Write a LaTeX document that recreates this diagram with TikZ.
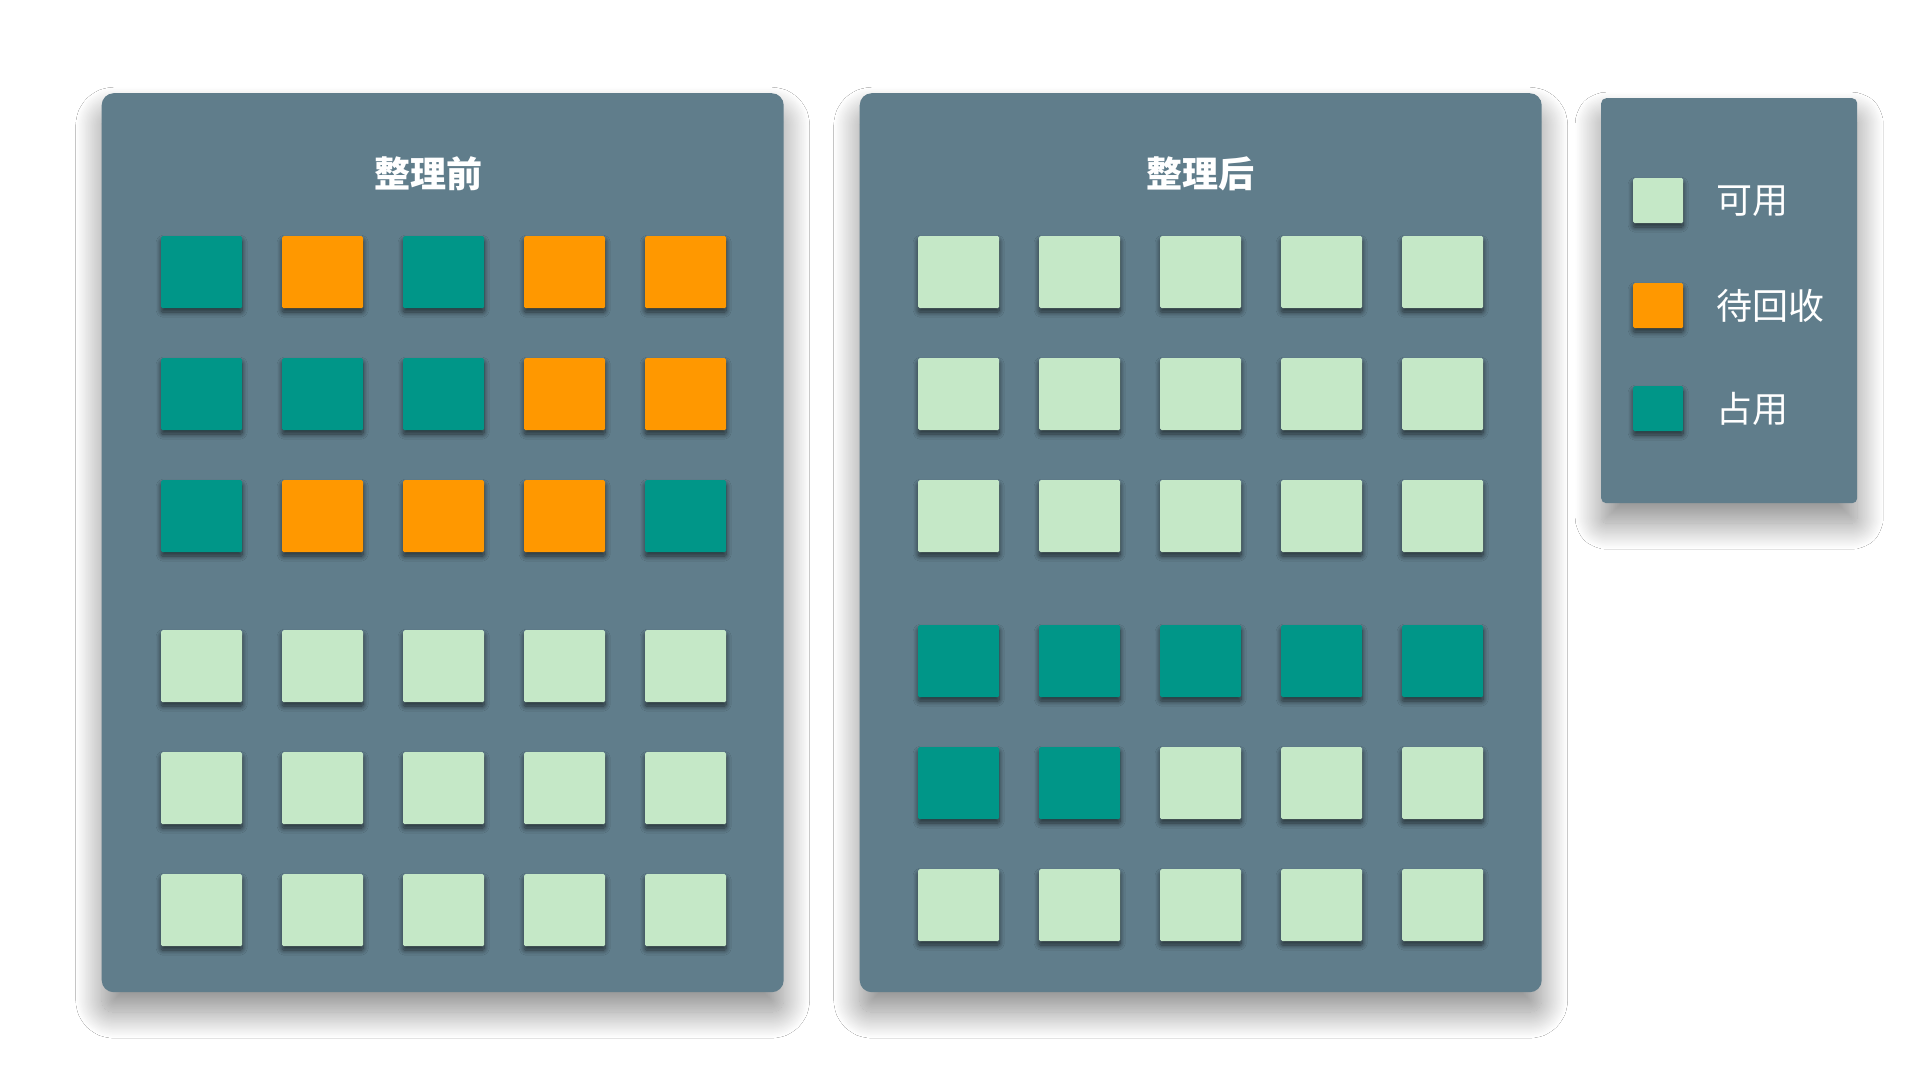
\documentclass[tikz,border=0pt]{standalone}
\usepackage{fontspec}
\setmainfont{Noto Sans CJK SC}
\usetikzlibrary{shadows.blur}
\usetikzlibrary{positioning}
\definecolor{panel}{HTML}{607D8B}
\definecolor{cb}{HTML}{009688}
\definecolor{cw}{HTML}{FF9800}
\definecolor{cf}{HTML}{C5E8C7}

\begin{document}
\begin{tikzpicture}[x=1pt,y=-1pt,
		board/.style={fill=panel, rounded corners=12pt, inner sep=0pt, anchor=north west,
			blur shadow={shadow xshift=0pt, shadow yshift=-20pt, shadow blur radius=26pt, shadow blur steps=40, shadow opacity=45}},
		cell/.style={fill=c#1, minimum width=81pt, minimum height=72pt, inner sep=0pt, anchor=north west, rounded corners=1.5pt,
			blur shadow={shadow xshift=0pt, shadow yshift=-4pt, shadow blur radius=5pt, shadow blur steps=12, shadow opacity=60}},
		key/.style={cell=#1, minimum width=50pt, minimum height=45pt},
		title/.style={text=white, font=\fontsize{36}{40}\selectfont\bfseries},
		keytext/.style={text=white, inner sep=0pt, font=\fontsize{36}{40}\selectfont}]
				\fill[white] (0,0) rectangle (1920,1080);
				\useasboundingbox (0,0) rectangle (1920,1080);

				\node[board, minimum width=682pt, minimum height=899pt] (before) at (101.5,93) {};
				\node[board, minimum width=682pt, minimum height=899pt] (after) at (859.5,93) {};
				\node[board, rounded corners=5pt, minimum width=256pt, minimum height=405pt] (legend) at (1601,98) {};

				\node[title] (beforetitle) at (428,174) {整理前};
				\node[title] (aftertitle) at (1200,174) {整理后};

				% 整理前
				\foreach \y/\row [count=\r] in {236/{b,w,b,w,w}, 358/{b,b,b,w,w}, 480/{b,w,w,w,b}, 630/{f,f,f,f,f}, 752/{f,f,f,f,f}, 874/{f,f,f,f,f}}
					\foreach \c [count=\i from 0] in \row
						\node[cell=\c] (pre\r\i) at (161+121*\i,\y) {};

				% 整理后
				\foreach \y/\row [count=\r] in {236/{f,f,f,f,f}, 358/{f,f,f,f,f}, 480/{f,f,f,f,f}, 625/{b,b,b,b,b}, 747/{b,b,f,f,f}, 869/{f,f,f,f,f}}
					\foreach \c [count=\i from 0] in \row
						\node[cell=\c] (post\r\i) at (918+121*\i,\y) {};

				\node[key=f] (kfree) at (1633,178) {};
				\node[key=w] (kwait) at (1633,283) {};
				\node[key=b] (kbusy) at (1633,386) {};
				\node[keytext, right=33pt of kfree] (tfree) {可用};
				\node[keytext, right=33pt of kwait] (twait) {待回收};
				\node[keytext, right=33pt of kbusy] (tbusy) {占用};
			\end{tikzpicture}
\end{document}
